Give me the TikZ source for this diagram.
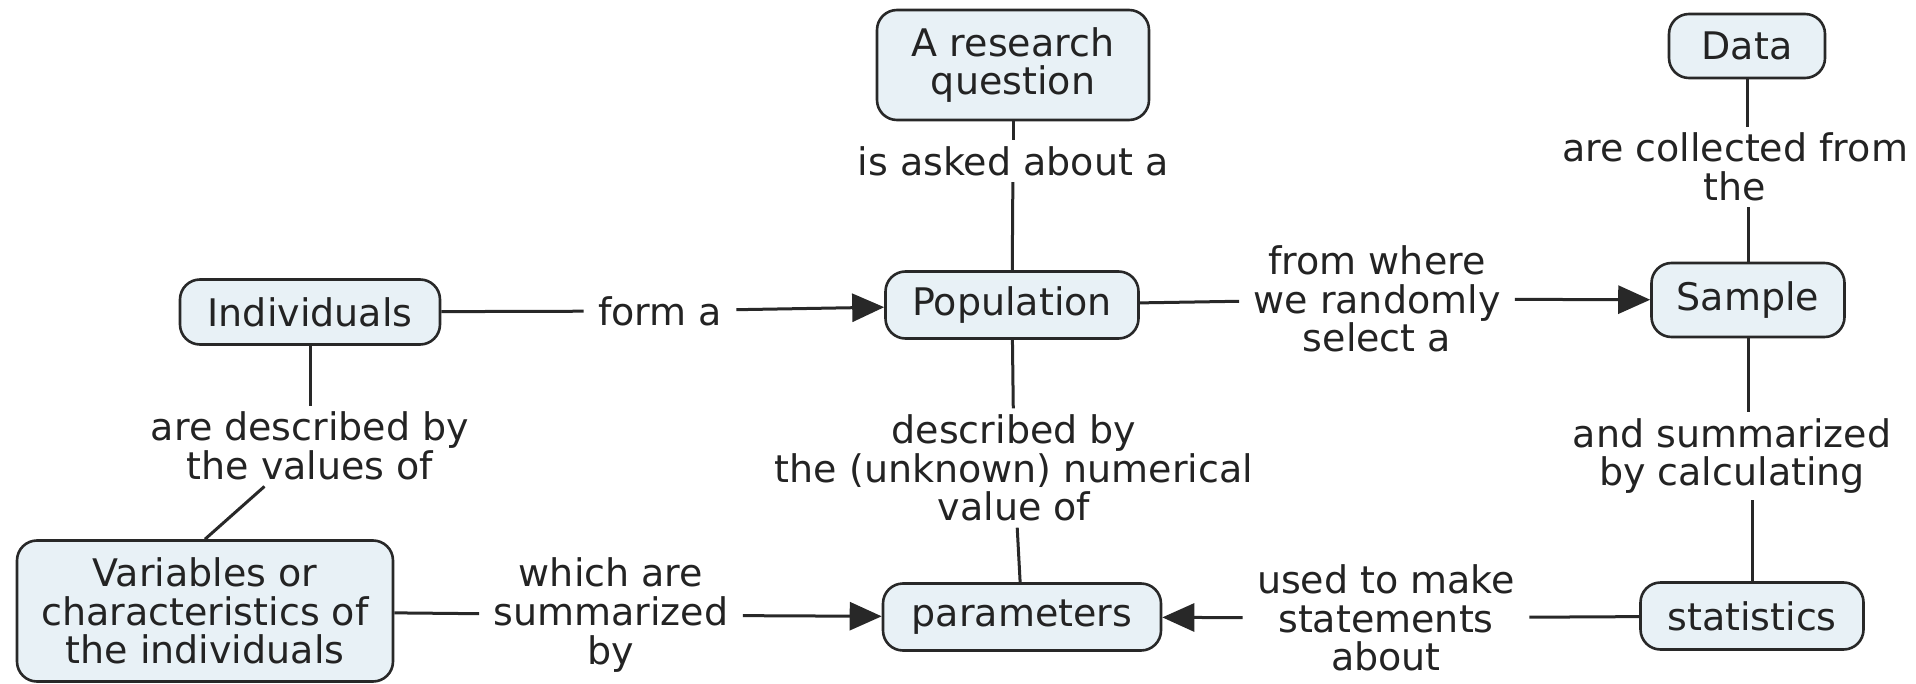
\documentclass[tikz,border=0pt]{standalone}
\usepackage{fontspec}
\setmainfont{DejaVu Sans}
\usetikzlibrary{arrows.meta}
\definecolor{boxfill}{RGB}{232,241,246}
\definecolor{linec}{RGB}{40,40,40}
\definecolor{textc}{RGB}{35,35,35}
\begin{document}
\begin{tikzpicture}[x=0.5pt,y=-0.5pt,
  every node/.style={font=\fontsize{19pt}{19.3pt}\selectfont, text=textc, align=center},
  concept/.style={draw=linec, line width=1.3pt, fill=boxfill, rounded corners=10pt, inner sep=0pt},
  linklabel/.style={inner xsep=7pt, inner ysep=3pt},
  conn/.style={draw=linec, line width=1.5pt},
  arr/.style={conn, -{Triangle[length=16pt,width=14pt]}}
]
\fill[white] (0,0) rectangle (1916,684);
\useasboundingbox (0,0) rectangle (1916,684);

% concepts
\node[concept, minimum width=136pt, minimum height=55pt] (rq) at (1013,65) {A research\\question};
\node[concept, minimum width=78pt, minimum height=32pt] (data) at (1747,46) {Data};
\node[concept, minimum width=130pt, minimum height=32.5pt] (ind) at (310,312) {Individuals};
\node[concept, minimum width=126.5pt, minimum height=33.5pt] (pop) at (1012,305) {Population};
\node[concept, minimum width=96.5pt, minimum height=37pt] (samp) at (1748,300) {Sample};
\node[concept, minimum width=188pt, minimum height=70.5pt] (var) at (205,611) {Variables or\\characteristics of\\the individuals};
\node[concept, minimum width=139pt, minimum height=33.5pt] (par) at (1022,617) {parameters};
\node[concept, minimum width=111.5pt, minimum height=33.5pt] (stat) at (1752,616) {statistics};

% link labels
\node[linklabel] (asked) at (1013,161) {is asked about a};
\node[linklabel] (form) at (660,311) {form a};
\node[linklabel] (where) at (1377,299) {from where\\we randomly\\select a};
\node[linklabel] (coll) at (1735,167) {are collected from\\the};
\node[linklabel] (desc) at (310,446) {are described by\\the values of};
\node[linklabel] (descu) at (1014,468) {described by\\the (unknown) numerical\\value of};
\node[linklabel] (sumc) at (1732,456) {and summarized\\by calculating};
\node[linklabel] (which) at (611,615) {which are\\summarized\\by};
\node[linklabel] (used) at (1386,618) {used to make\\statements\\about};

% connectors
\draw[conn] (rq) -- (asked);
\draw[conn] (asked) -- (pop);
\draw[conn] (ind) -- (form);
\draw[arr] (form) -- (pop);
\draw[conn] (pop) -- (where);
\draw[arr] (where) -- (samp);
\draw[conn] (data) -- (data |- coll.north);
\draw[conn] (coll.south -| samp) -- (samp);
\draw[conn] (ind) -- (desc);
\draw[conn] (desc) -- (var.north);
\draw[conn] (pop) -- (descu);
\draw[conn] (descu) -- (par);
\draw[conn] (samp) -- (samp |- sumc.north);
\draw[conn] (sumc.south -| stat) -- (stat);
\draw[conn] (var) -- (which);
\draw[arr] (which) -- (par);
\draw[conn] (stat) -- (used);
\draw[arr] (used) -- (par);
\end{tikzpicture}
\end{document}
